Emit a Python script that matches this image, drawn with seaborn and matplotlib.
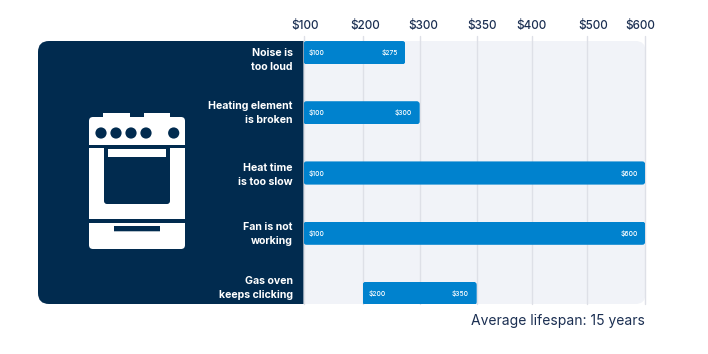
import numpy as np
import pandas as pd
import matplotlib
matplotlib.use("Agg")
import matplotlib.pyplot as plt
from matplotlib.patches import Circle, FancyBboxPatch, Rectangle
from matplotlib.transforms import IdentityTransform
import seaborn as sns

# dados do grafico
causes = ["Noise is\ntoo loud", "Heating element\nis broken", "Heat time\nis too slow",
          "Fan is not\nworking", "Gas oven\nkeeps clicking"]
low_costs = [100, 100, 100, 100, 200]
high_costs = [275, 300, 600, 600, 350]
tick_values = [100, 200, 300, 350, 400, 500, 600]
footer = "Average lifespan: 15 years"

# cores
NAVY = "#012B4F"
BLUE = "#0082CE"
PANEL = "#F1F3F8"
GRID = "#DEE0E7"
INK = "#1B2F52"

sns.set_theme(style="white")
plt.rcParams["font.family"] = ["Inter", "DejaVu Sans"]

fig = plt.figure(figsize=(7.08, 3.54), dpi=100, facecolor="white")

# camada de fundo em pixels da imagem
bg = fig.add_axes([0, 0, 1, 1], zorder=0)
bg.set_xlim(0, 708)
bg.set_ylim(354, 0)
bg.axis("off")


def box(x0, y0, x1, y1, color, r=0):
    if r == 0:
        bg.add_patch(Rectangle((x0, y0), x1 - x0, y1 - y0, fc=color, ec="none", snap=False))
    else:
        bg.add_patch(FancyBboxPatch((x0 + r, y0 + r), x1 - x0 - 2 * r, y1 - y0 - 2 * r,
                                    boxstyle=f"round,pad={r},rounding_size={r}",
                                    fc=color, ec="none", snap=False))


box(280, 41, 645.5, 304, PANEL, 10)
box(38, 41, 290, 304, NAVY, 11)
box(200, 41, 303.5, 304, NAVY)

# icone do forno
box(103, 113, 130, 120, "white")
box(144, 113, 170, 120, "white")
box(89, 117, 185, 135, "white", 4)
box(89, 125, 185, 145, "white")
for cx in [101, 116, 131, 146, 173.7]:
    bg.add_patch(Circle((cx, 133), 5.6, fc=NAVY, ec="none"))
box(89, 148, 185, 219, "white")
box(104, 148, 170, 204, NAVY, 3)
box(104, 148, 170, 190, NAVY)
box(108, 149, 166, 157, "white")
box(89, 223, 185, 249, "white", 4)
box(89, 223, 185, 235, "white")
box(114, 226, 160, 231.3, NAVY)

# eixo principal: de x=303.5 a 645.3 e de y=36 a 304 (pixels)
ax = fig.add_axes([303.5 / 708, 1 - 304 / 354, (645.3 - 303.5) / 708, 268 / 354], zorder=1)
ax.patch.set_alpha(0)

df = pd.DataFrame({"cause": causes, "span": np.array(high_costs) - np.array(low_costs)})
sns.barplot(data=df, x="span", y="cause", orient="y", left=low_costs, color=BLUE,
            saturation=1, width=0.385, errorbar=None, ax=ax)

# a escala do original nao e linear: cada rotulo tem mais ou menos o mesmo espaco
tick_px = np.array([303.5, 362.7, 419.7, 476.7, 531.7, 586.7, 645.3])


def forward(v):
    return np.interp(v, tick_values, tick_px)


def inverse(v):
    return np.interp(v, tick_px, tick_values)


ax.set_xscale("function", functions=(forward, inverse))
ax.set_xlim(100, 600)
ax.set_ylim(4.176, -0.276)
ax.set_xticks(tick_values)
ax.set_xticklabels([])
ax.minorticks_off()
ax.set_yticks([])
ax.set_xlabel("")
ax.set_ylabel("")
ax.tick_params(length=0)
ax.xaxis.tick_top()
ax.set_axisbelow(True)
ax.grid(axis="x", color=GRID, lw=1)
for line in ax.get_xgridlines():
    line.set_clip_on(False)
sns.despine(ax=ax, left=True, bottom=True)

# cantos arredondados: recorta cada barra com uma caixa do mesmo tamanho
fig.canvas.draw()
for p in ax.patches:
    e = p.get_window_extent()
    p.set_edgecolor("none")
    p.set_clip_path(FancyBboxPatch((e.x0 + 3, e.y0 + 3), e.width - 6, e.height - 6,
                                   boxstyle="round,pad=3,rounding_size=3",
                                   transform=IdentityTransform()))

# rotulos do topo ficam um pouco deslocados das linhas
tick_nudge = [1.5, 2.3, 4, 5.3, -0.7, 6.3, -5.3]
for v, n in zip(tick_values, tick_nudge):
    ax.annotate(f"${v}", xy=(v, 1), xycoords=ax.get_xaxis_transform(),
                xytext=(n * 0.72, 7.4), textcoords="offset points",
                ha="center", va="center", fontsize=8.4, fontweight="medium", color=INK)

# rotulos das categorias: o primeiro e o ultimo nao ficam centrados na barra
label_nudge = [7.2, 0.5, 1.5, 0.5, -5.8]
for i, (cause, n) in enumerate(zip(causes, label_nudge)):
    ax.annotate(cause, xy=(0, i), xycoords=ax.get_yaxis_transform(),
                xytext=(-7.6, -n * 0.72), textcoords="offset points", ha="right", va="center",
                fontsize=7.6, fontweight="bold", color="white", linespacing=1.5)

# valores dentro das barras
for i, (lo, hi) in enumerate(zip(low_costs, high_costs)):
    ax.annotate(f"${lo}", xy=(lo, i), xytext=(4, 0), textcoords="offset points",
                ha="left", va="center", fontsize=4.8, fontweight="medium", color="white")
    ax.annotate(f"${hi}", xy=(hi, i), xytext=(-5.5, 0), textcoords="offset points",
                ha="right", va="center", fontsize=4.8, fontweight="medium", color="white")

fig.text(645.3 / 708, 1 - 321 / 354, footer, ha="right", va="center", fontsize=10, color=INK)

fig.savefig("out.png", dpi=100)
